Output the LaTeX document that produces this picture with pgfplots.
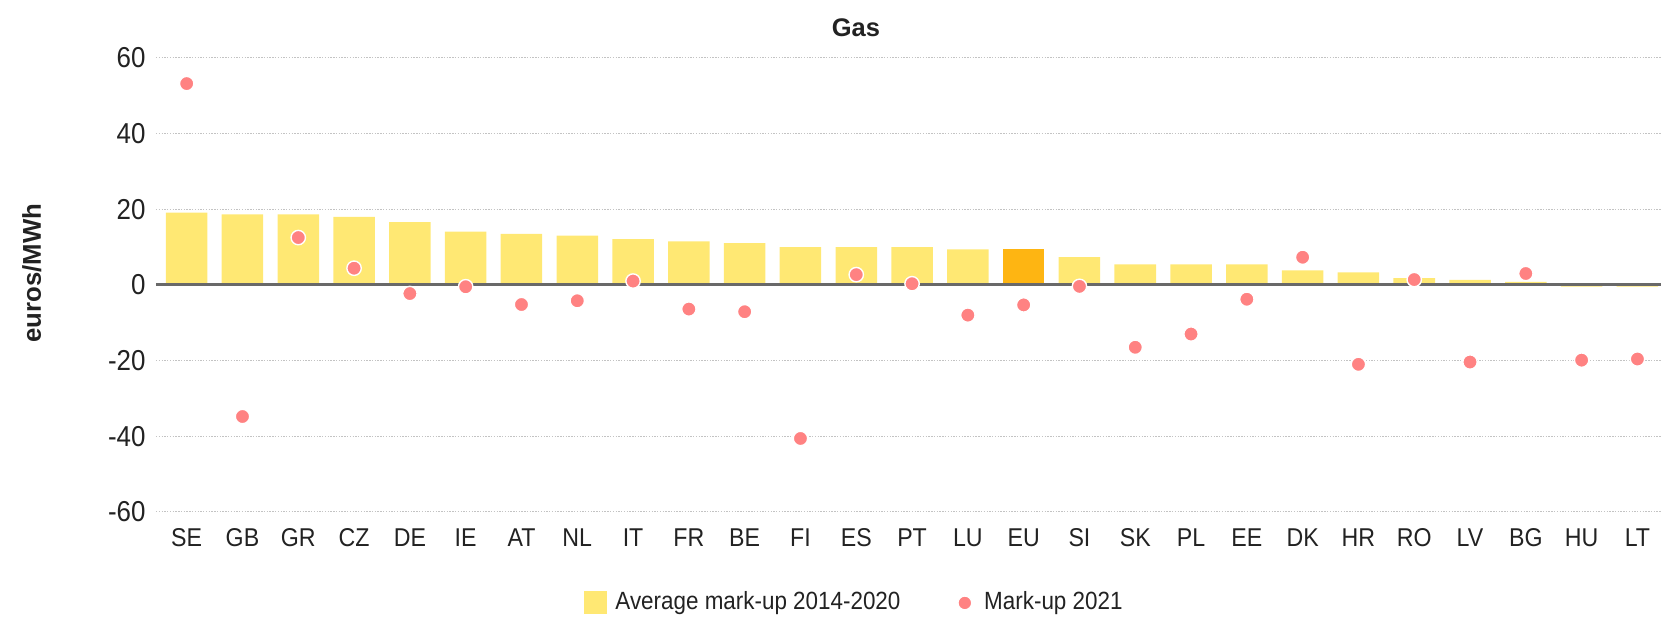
\documentclass[border=0pt]{standalone}
\usepackage{fontspec}
\setmainfont{Liberation Sans}
\newfontfamily\condfont{Liberation Sans}[FakeStretch=0.9]
\usepackage{pgfplots}
\usepackage{pgfplotstable}
\pgfplotsset{compat=1.18}
\definecolor{baryellow}{RGB}{255,232,115}
\definecolor{barorange}{RGB}{254,181,18}
\definecolor{dotpink}{RGB}{255,130,130}
\definecolor{zeroline}{RGB}{105,105,105}
\definecolor{gridgray}{RGB}{195,195,195}
\definecolor{txt}{RGB}{34,34,34}

\pgfplotstableread{
x avg
0 19.1
1 18.6
2 18.6
3 18.0
4 16.6
5 14.1
6 13.5
7 13.0
8 12.1
9 11.5
10 11.0
11 10.0
12 10.0
13 10.0
14 9.4
16 7.3
17 5.4
18 5.4
19 5.4
20 3.8
21 3.3
22 1.8
23 1.3
24 0.8
25 -0.5
26 -0.5
}\avgdata

\pgfplotstableread{
x avg
15 9.4
}\eudata

\pgfplotstableread{
x mk
0 53.2
1 -34.8
2 12.5
3 4.4
4 -2.3
5 -0.5
6 -5.2
7 -4.2
8 1.0
9 -6.4
10 -7.1
11 -40.6
12 2.7
13 0.3
14 -8.0
15 -5.3
16 -0.4
17 -16.5
18 -13.0
19 -3.8
20 7.3
21 -21.0
22 1.4
23 -20.4
24 3.0
25 -19.9
26 -19.6
}\mkdata

\begin{document}
\begin{tikzpicture}
\useasboundingbox (0,0) rectangle (600pt,223.6pt);
\begin{axis}[
  at={(56.35pt,38.7pt)}, anchor=south west,
  scale only axis, width=543.6pt, height=164pt,
  xmin=-0.55, xmax=26.42, ymin=-60, ymax=60,
  axis line style={draw=none},
  major tick length=0pt,
  xtick={0,...,26},
  xticklabels={SE,GB,GR,CZ,DE,IE,AT,NL,IT,FR,BE,FI,ES,PT,LU,EU,SI,SK,PL,EE,DK,HR,RO,LV,BG,HU,LT},
  xticklabel style={font=\condfont\fontsize{9.3}{11}\selectfont, text=txt, anchor=center, yshift=-9.4pt},
  ytick={-60,-40,-20,0,20,40,60},
  yticklabels={-60,-40,-20,0,20,40,60},
  yticklabel style={font=\condfont\fontsize{10.4}{12}\selectfont, text=txt, anchor=east, inner sep=0pt, xshift=-3.6pt},
  ymajorgrids,
  grid style={gridgray, line width=0.45pt, dash pattern=on 0.5pt off 0.5pt},
  title={Gas},
  title style={font=\bfseries\fontsize{9.2}{11}\selectfont, text=txt, at={(0.4651,1)}, anchor=center, yshift=4.9pt},
  ylabel={euros/MWh},
  ylabel style={font=\bfseries\fontsize{9.3}{11}\selectfont, text=txt, at={(-0.0825,0.5256)}, anchor=center},
  legend columns=2,
  legend style={at={(0.4648,-0.2006)}, anchor=center, draw=none, fill=none,
    font=\condfont\fontsize{9}{11}\selectfont, text=txt, inner sep=0pt,
    nodes={inner sep=1.5pt},
    /tikz/every odd column/.append style={column sep=1.5pt},
    /tikz/every even column/.append style={column sep=19pt}},
]
\addplot[ybar, bar width=0.744, bar shift=0pt, fill=baryellow, draw=none,
  legend image code/.code={\fill[baryellow] (0pt,-4.15pt) rectangle (8.3pt,4.15pt);}]
  table[x=x,y=avg] {\avgdata};
\addlegendentry{Average mark-up 2014-2020}
\addplot[ybar, bar width=0.744, bar shift=0pt, fill=barorange, draw=none, forget plot]
  table[x=x,y=avg] {\eudata};
\addplot[zeroline, line width=1pt, forget plot] coordinates {(-0.55,0) (26.42,0)};
\addplot[only marks, mark=*, mark size=2.6pt,
  mark options={fill=dotpink, draw=white, line width=0.5pt},
  legend image code/.code={\path (0pt,0pt) (6.2pt,0pt); \filldraw[fill=dotpink, draw=white, line width=0.5pt] (2.4pt,0pt) circle[radius=2.5pt];}]
  table[x=x,y=mk] {\mkdata};
\addlegendentry{Mark-up 2021}
\end{axis}
\end{tikzpicture}
\end{document}
